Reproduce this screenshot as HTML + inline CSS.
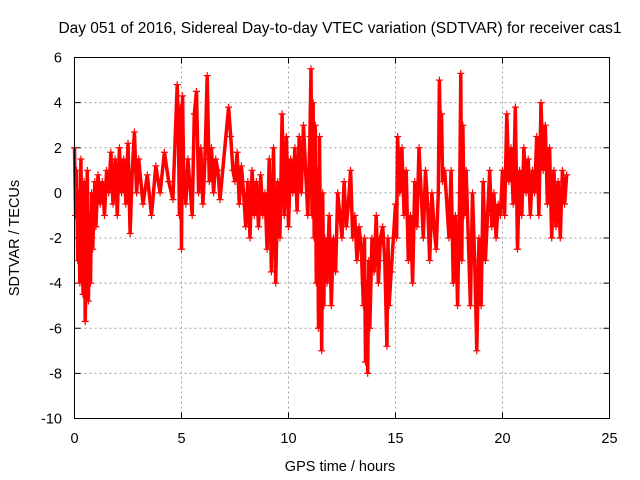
<!DOCTYPE html>
<html><head><meta charset="utf-8"><style>
body{margin:0;background:#fff;}
svg{display:block;font-family:"Liberation Sans",sans-serif;}
</style></head><body>
<svg id="chart" width="640" height="480">
<text x="340" y="33" font-size="15.5" text-anchor="middle">Day 051 of 2016, Sidereal Day-to-day VTEC variation (SDTVAR) for receiver cas1</text>
<text x="340" y="471" font-size="14.5" text-anchor="middle">GPS time / hours</text>
<text transform="translate(19,238) rotate(-90)" font-size="14.5" text-anchor="middle">SDTVAR / TECUs</text>
<g id="grid"></g><g id="ticks"></g><g id="marks"></g>
<rect x="74.5" y="57.5" width="535" height="361" fill="none" stroke="#000" stroke-width="1"/>
</svg>
<script>
const xTicks=[0,5,10,15,20,25];
const yTicks=[6,4,2,0,-2,-4,-6,-8,-10];
const times=[0,0.05,0.1,0.15,0.2,0.25,0.3,0.35,0.4,0.45,0.5,0.55,0.6,0.65,0.7,0.75,0.8,0.85,0.9,0.95,1.0,1.1,1.2,1.3,1.4,1.5,1.6,1.7,1.8,1.9,2.0,2.1,2.2,2.3,2.4,2.5,2.6,2.7,2.8,2.9,3.0,3.2,3.4,3.6,3.8,4.0,4.2,4.4,4.6,4.8,4.85,4.9,4.95,5.0,5.05,5.1,5.2,5.3,5.5,5.6,5.7,5.8,5.9,6.0,6.1,6.2,6.3,6.4,6.5,6.6,6.7,6.8,7.2,7.3,7.4,7.5,7.6,7.7,7.8,7.9,8.0,8.1,8.2,8.3,8.4,8.5,8.6,8.7,8.8,8.9,9.0,9.1,9.2,9.3,9.4,9.5,9.6,9.7,9.8,9.9,10.0,10.1,10.2,10.3,10.4,10.5,10.6,10.7,10.8,10.9,11.0,11.05,11.1,11.15,11.2,11.25,11.3,11.35,11.4,11.45,11.5,11.55,11.6,11.65,11.7,11.8,11.9,12.0,12.1,12.2,12.3,12.4,12.5,12.6,12.7,12.8,12.9,13.0,13.1,13.2,13.3,13.4,13.5,13.55,13.6,13.65,13.7,13.75,13.8,13.9,14.0,14.1,14.2,14.3,14.4,14.5,14.6,14.65,14.7,14.8,14.9,15.0,15.05,15.1,15.2,15.3,15.4,15.5,15.6,15.7,15.8,15.9,16.0,16.1,16.2,16.3,16.4,16.5,16.6,16.7,16.8,16.9,17.0,17.05,17.1,17.15,17.2,17.3,17.5,17.6,17.7,17.8,17.9,18.0,18.05,18.1,18.15,18.2,18.3,18.4,18.5,18.6,18.7,18.8,18.85,18.9,19.0,19.1,19.2,19.3,19.4,19.5,19.6,19.7,19.8,19.9,20.0,20.1,20.2,20.3,20.4,20.5,20.6,20.7,20.8,20.9,21.0,21.1,21.2,21.3,21.4,21.5,21.6,21.7,21.8,21.9,22.0,22.1,22.2,22.3,22.4,22.5,22.6,22.7,22.8,22.9,23.0];
const values=[2,-1,1,-3,0,-4,1.5,-2,-4.5,0.5,-5.7,-3,1,-4.8,-1,-4,0,-2.5,-1,0.5,-1.5,0.8,-0.5,0.5,-1,1,0,1.8,-0.5,1.5,-1,2,0,1.5,-0.5,2.2,-1.8,1,2.7,0,1.5,-0.5,0.8,-1,1.2,0,1.8,0.5,-0.3,4.8,3,-1,3.8,-2.5,4.3,1,-0.5,1.5,-1,3.5,4.5,0,2,-0.5,1.5,5.2,0.5,2,0,1.5,1,-0.3,3.8,2.5,1,0.5,1.8,-0.5,1.2,0,-1.5,0.5,-2,1,-1,0.5,-1.5,0.8,-1,0,-2.5,1.5,-3.5,2,-4,0.5,-2,3.5,-1,2.5,-1.5,1.5,0,2,-0.8,2.5,0,3,1,-1,2.5,5.5,-1,4,-2,3,-4,1,-6,2.5,-3,-7,0,-5,-2,-4,-1,-5,-2,-3.5,0,-1,-2,0.5,-1.5,-0.5,1,-2,-1,-3,-1.5,-2.5,-5,-2,-7.5,-4,-8,-3,-6,-2,-3.5,-1,-4,-2,-1.5,-3,-6.8,-2,-5,-3.5,-2,-0.5,-2,2.5,0,2,-1,1,-3,-1,-4,0.5,-1.5,2,0,-2,1,-0.5,-3,0,-1.5,-2.5,0,5,2,3.5,0.5,1,-2,1,-4,-1,-5,0,5.3,-3,3,-1,1,-2,-5,0,-3,-7,-4.5,-2,-5,0.5,-3,-1,1,-1.5,0,-2,-0.5,-1,1,-1,3.5,0.5,2,-0.5,3.8,-2.5,1,-1,2,0,1.5,-1,1,0,2.5,-1,4,1,3,-0.5,2,-2,1,-1.5,0.5,-2,1,-0.5,0.8];
const X0=74.5,X1=609.5,Y0=418.5,Y1=57.5;
function xs(t){return X0+(t-0)/(25-0)*(X1-X0);}
function ys(v){return Y0-(v-(-10))/(6-(-10))*(Y0-Y1);}
const NS='http://www.w3.org/2000/svg';
const grid=document.getElementById('grid'),ticks=document.getElementById('ticks'),marks=document.getElementById('marks');
function mk(tag,attrs,parent){const e=document.createElementNS(NS,tag);for(const k in attrs)e.setAttribute(k,attrs[k]);parent.appendChild(e);return e;}
xTicks.forEach(t=>{const x=xs(t);
 if(t>0&&t<25){const g=mk('line',{x1:x,x2:x,y1:Y0,y2:Y1,stroke:'#a0a0a0','stroke-dasharray':'2,3'},grid);
 
 }
 mk('line',{x1:x,x2:x,y1:Y0,y2:Y0-6,stroke:'#000'},ticks);mk('line',{x1:x,x2:x,y1:Y1,y2:Y1+6,stroke:'#000'},ticks);
 const l=mk('text',{x:x,y:443,'font-size':14.5,'text-anchor':'middle'},ticks);l.textContent=t;
 
 });
yTicks.forEach(v=>{const y=ys(v);
 if(v>-10&&v<6){const g=mk('line',{x1:X0,x2:X1,y1:y,y2:y,stroke:'#a0a0a0','stroke-dasharray':'2,3'},grid);
 
 }
 mk('line',{x1:X0,x2:X0+6,y1:y,y2:y,stroke:'#000'},ticks);mk('line',{x1:X1,x2:X1-6,y1:y,y2:y,stroke:'#000'},ticks);
 const l=mk('text',{x:62,y:y+5,'font-size':14.5,'text-anchor':'end'},ticks);l.textContent=v;
 
 });
let pts=times.map((t,i)=>xs(t).toFixed(1)+','+ys(values[i]).toFixed(1)).join(' ');
const pl=mk('polyline',{points:pts,fill:'none',stroke:'#f00','stroke-width':3.5},marks);


times.forEach((t,i)=>{const x=xs(t),y=ys(values[i]);
 const p=mk('path',{d:`M${x-3.5},${y}h7M${x},${y-3.5}v7`,stroke:'#f00','stroke-width':1.2},marks);
 
 });
</script>
</body></html>
